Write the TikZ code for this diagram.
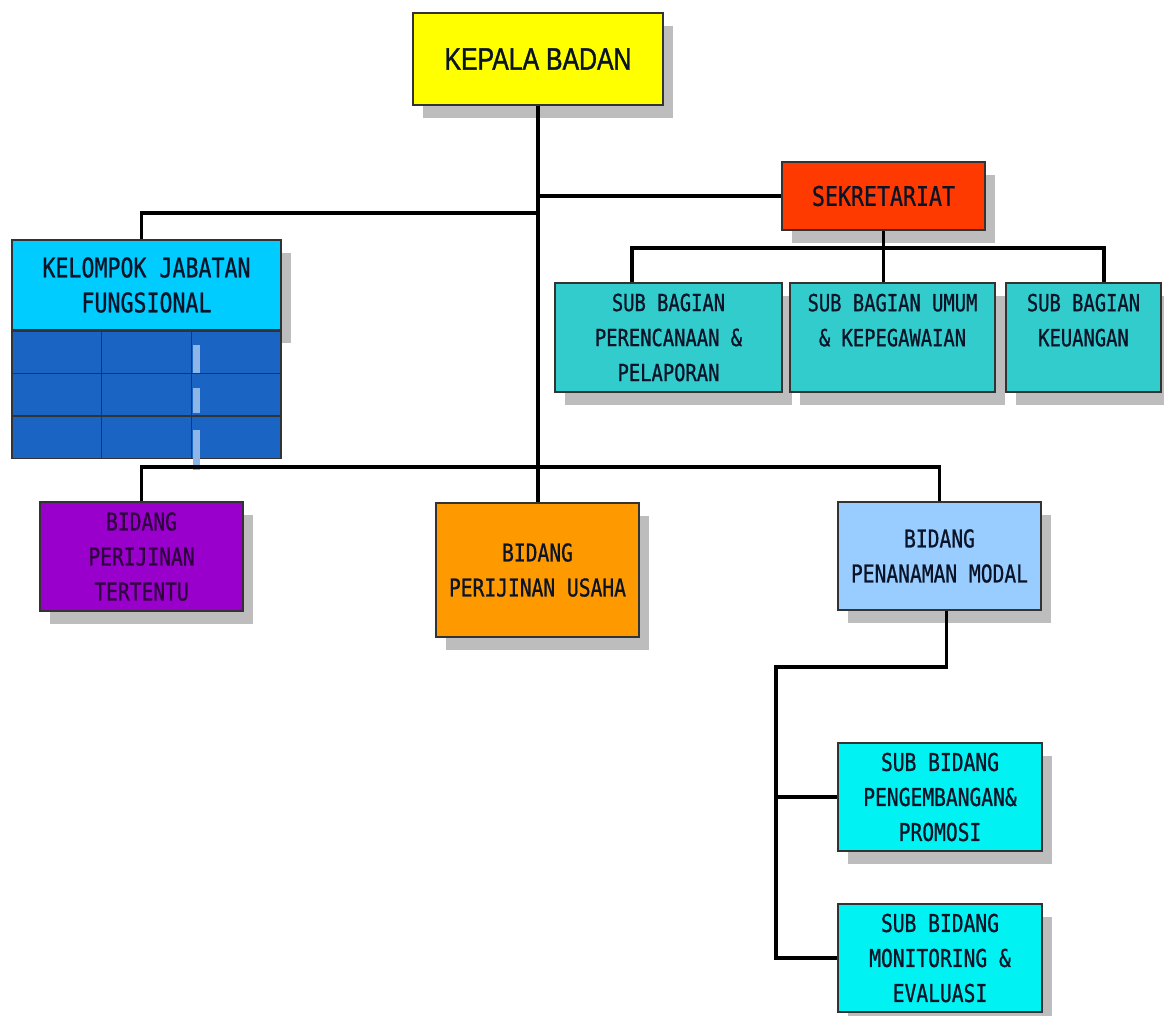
\documentclass[tikz,border=0pt]{standalone}
\usepackage{fontspec}
\usepackage{tikz}
\usetikzlibrary{positioning, calc, shadows}
\newfontfamily\boxfont[FakeStretch=0.8, FakeBold=0.8]{DejaVu Sans Mono}
\newfontfamily\headfont[FakeStretch=0.8, FakeBold=1.2]{Liberation Sans}
\definecolor{ink}{HTML}{0A1428}
\definecolor{shade}{HTML}{BDBDBD}
\definecolor{kepalaY}{HTML}{FFFF00}
\definecolor{sekrR}{HTML}{FF3A00}
\definecolor{subT}{HTML}{33CCCC}
\definecolor{jfB}{HTML}{00CCFF}
\definecolor{tblB}{HTML}{1A64C4}
\definecolor{glintB}{HTML}{8DB6E6}
\definecolor{bidP}{HTML}{9900CC}
\definecolor{bidO}{HTML}{FF9900}
\definecolor{bidL}{HTML}{99CCFF}
\definecolor{subC}{HTML}{00F2F2}

\begin{document}
\begin{tikzpicture}[
    x=1pt, y=-1pt,
    link/.style={line width=3.5pt, black},
    box/.style={rectangle, draw=black!80, line width=1.2pt, inner sep=0pt, align=center, text=ink,
        drop shadow={shadow xshift=10pt, shadow yshift=-13pt, fill=shade, opacity=1}},
    big/.style={font={\boxfont\fontsize{27}{35}\selectfont}},
    small/.style={font={\boxfont\fontsize{23.5}{35}\selectfont}},
    mid/.style={font={\boxfont\fontsize{24.5}{35}\selectfont}},
    subbag/.style={box, small, fill=subT, minimum height=109pt},
    bidang/.style={box, mid, fill=#1, minimum width=203pt},
    subbid/.style={box, mid, fill=subC, minimum width=204pt, minimum height=108pt},
    tabel/.style={rectangle, fill=tblB, draw=black!80, line width=1.2pt, inner sep=0pt},
    glint/.style={line width=7pt, glintB}
]
    \useasboundingbox (0,0) rectangle (1164,1016);

    % pimpinan
    \node[box, fill=kepalaY, minimum width=250pt, minimum height=92pt,
          font={\headfont\fontsize{31}{35}\selectfont}] (kepala) at (538,59) {KEPALA\ BADAN};
    \node[box, big, fill=sekrR, minimum width=203pt, minimum height=68pt] (sekr) at (883.5,196) {SEKRETARIAT};

    % sub bagian
    \node[subbag, minimum width=227pt] (perencanaan) at (668.5,337.5) {SUB BAGIAN\\PERENCANAAN \&\\PELAPORAN};
    \node[subbag, minimum width=205pt] (umum) at (892.5,337.5) {SUB BAGIAN UMUM\\\& KEPEGAWAIAN\\\mbox{}};
    \node[subbag, minimum width=155pt] (keuangan) at (1083.5,337.5) {SUB BAGIAN\\KEUANGAN\\\mbox{}};

    % kelompok jabatan fungsional
    \node[box, big, fill=jfB, minimum width=269pt, minimum height=90pt] (kelompok) at (146.5,285) {KELOMPOK JABATAN\\FUNGSIONAL};
    \node[tabel, minimum width=269pt, minimum height=127pt, below=0pt of kelompok] (tabel) {};
    \foreach \i in {1,2} {
        \draw[black!80, line width=1.5pt] ($(tabel.north west)!\i/3!(tabel.north east)$) -- ($(tabel.south west)!\i/3!(tabel.south east)$);
        \draw[black!80, line width=1.5pt] ($(tabel.north west)!\i/3!(tabel.south west)$) -- ($(tabel.north east)!\i/3!(tabel.south east)$);
    }
    \foreach \a/\b in {345/373, 388/413, 430/470}
        \draw[glint] (196,\a) -- (196,\b);

    % bidang
    \node[bidang=bidP, minimum height=109pt, text=black!70!bidP] (tertentu) at (141.5,556.5) {BIDANG\\PERIJINAN\\TERTENTU};
    \node[bidang=bidO, minimum height=134pt] (usaha) at (537.5,570) {BIDANG\\PERIJINAN USAHA};
    \node[bidang=bidL, minimum height=108pt] (penanaman) at (939.5,556) {BIDANG\\PENANAMAN MODAL};

    % sub bidang
    \node[subbid] (promosi) at (940,797) {SUB BIDANG\\PENGEMBANGAN\&\\PROMOSI};
    \node[subbid] (monev) at (940,958) {SUB BIDANG\\MONITORING \&\\EVALUASI};

    \coordinate (jfbar) at (0,213);
    \coordinate (bidbar) at (0,467);
    \coordinate (sbl) at (632,248);
    \coordinate (sbr) at (1104,248);
    \coordinate (pm) at (776,667);

    % garis komando
    \draw[link] (kepala.south) -- (kepala.south |- usaha.north);
    \draw[link] (kepala.south |- sekr.west) -- (sekr.west);
    \draw[link] (kepala.south |- jfbar) -| (tertentu.north |- kelompok.north);
    \draw[link] (sekr.south) -- (sekr.south |- umum.north);
    \draw[link] (sbl |- perencanaan.north) -- (sbl) -- (sbr) -- (sbr |- keuangan.north);
    \draw[link] (tertentu.north) |- (penanaman.north |- bidbar) -- (penanaman.north);
    \draw[link] ($(penanaman.south)+(7,0)$) |- (pm) |- (promosi.west);
    \draw[link] (pm) |- (monev.west);
\end{tikzpicture}
\end{document}
